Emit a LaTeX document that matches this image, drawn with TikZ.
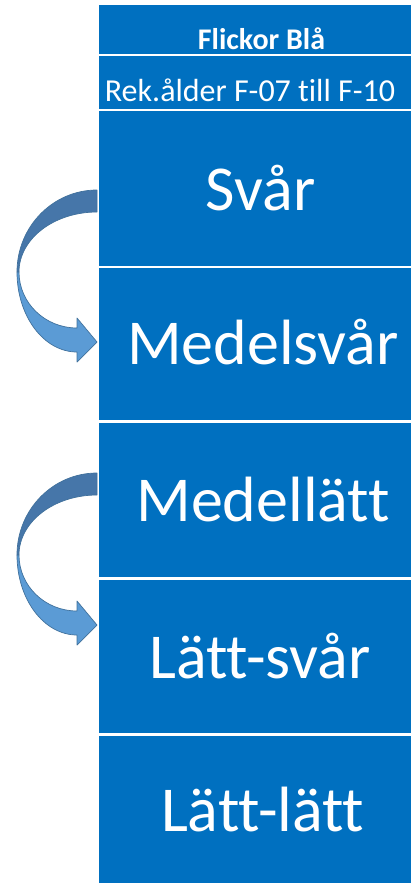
\documentclass[tikz,border=0pt]{standalone}
\usepackage{fontspec}
\setmainfont[Ligatures=NoCommon]{Carlito}
\definecolor{cellblue}{HTML}{0070C0}
\definecolor{arrowdark}{HTML}{4676A9}
\definecolor{arrowlight}{HTML}{5B9BD5}
\definecolor{arrowline}{HTML}{41719C}
\begin{document}
\begin{tikzpicture}[x=1pt,y=-1pt,
    cell/.style={fill=cellblue},
    celltext/.style={text=white,anchor=base,inner sep=0pt},
    bigtext/.style={celltext,font=\fontsize{64}{72}\selectfont},
    backside/.style={fill=arrowdark,draw=arrowline,line width=0.7pt,line join=round},
    frontside/.style={fill=arrowlight,draw=arrowline,line width=0.7pt,line join=round}]
        \useasboundingbox (0,0) rectangle (411,883);
        % Cells
        \fill[cell] (99,5) rectangle (411,54);
        \fill[cell] (99,56) rectangle (411,109);
        \fill[cell] (99,111) rectangle (411,266);
        \fill[cell] (99,268) rectangle (411,420);
        \fill[cell] (99,423) rectangle (411,577);
        \fill[cell] (99,580) rectangle (411,733);
        \fill[cell] (99,736) rectangle (411,883);
        % Texts
        \node[celltext,font=\fontsize{30}{34}\selectfont\bfseries] (title) at (261.5,49) {Flickor Blå};
        \node[celltext,font=\fontsize{32}{36}\selectfont] (age) at (250,101) {Rek.ålder F-07 till F-10};
        \node[bigtext] (svar) at (260.5,210) {Svår};
        \node[bigtext] (medelsvar) at (263,364) {Medelsvår};
        \node[bigtext] (medellatt) at (263,521.5) {Medellätt};
        \node[bigtext] (lattsvar) at (260,678.5) {Lätt-svår};
        \node[bigtext] (lattlatt) at (262.7,831.5) {Lätt-lätt};
        % Curved arrows
        \foreach \dy in {0,283} {
          \begin{scope}[yshift=-\dy pt]
            \draw[backside] (97,190) arc[start angle=-90,end angle=-180,x radius=80,y radius=82]
              -- (19,272) arc[start angle=180,end angle=270,x radius=78,y radius=60] -- cycle;
            \draw[frontside] (17,272) arc[start angle=180,end angle=90,x radius=60,y radius=80]
              -- (77,362) -- (97,342) -- (77,318) -- (77,328)
              arc[start angle=90,end angle=180,x radius=58,y radius=56] -- cycle;
          \end{scope}
        }
\end{tikzpicture}
\end{document}
